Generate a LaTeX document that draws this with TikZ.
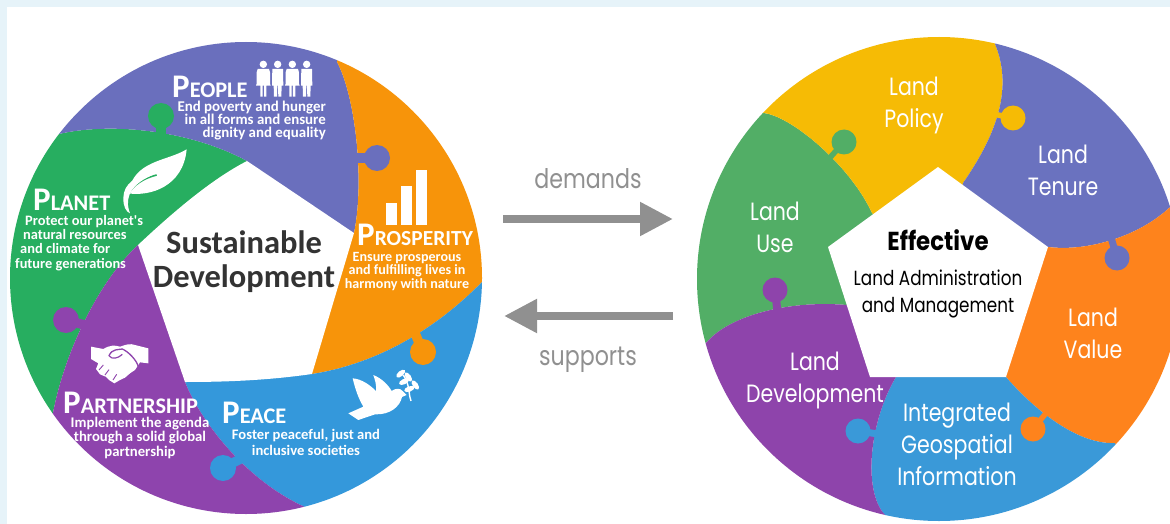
\documentclass[tikz,border=0pt]{standalone}
\usepackage{fontspec}
\usetikzlibrary{arrows.meta}
\newfontfamily\hum{Carlito}[BoldFont=Carlito Bold]
\newfontfamily\fut{Poppins}[BoldFont=* SemiBold,FakeStretch=0.82]
\newfontfamily\futb{Poppins Bold}[FakeStretch=0.88]
\definecolor{lviolet}{HTML}{6A6FBD}
\definecolor{lorange}{HTML}{F7940A}
\definecolor{lgreen}{HTML}{27AE60}
\definecolor{lpurple}{HTML}{8E44AD}
\definecolor{lblue}{HTML}{3498DB}
\definecolor{rgreen}{HTML}{52AE66}
\definecolor{ryellow}{HTML}{F6BB05}
\definecolor{rviolet}{HTML}{6A72BF}
\definecolor{rorange}{HTML}{FE831C}
\definecolor{rpurple}{HTML}{8E44AB}
\definecolor{rblue}{HTML}{3A99D8}
\definecolor{arrowgrey}{HTML}{909090}
\definecolor{bgtint}{HTML}{E6F3F9}
\newcommand{\heading}[2]{{\fontsize{33}{33}\selectfont #1}{\fontsize{22.3}{22}\selectfont #2}}
% colour, neck start inside own sector, circle centre, radius, neck width
\newcommand{\jigsawtab}[5]{%
  \draw[#1,line width=#5] (#2) -- (#3);
  \fill[#1] (#3) circle[radius=#4];}
\tikzset{
  headtext/.style={anchor=base west,inner sep=0pt,text=white,font=\hum\bfseries},
  bodytext/.style={anchor=base,inner sep=0pt,text=white,font=\hum\bfseries\fontsize{14.4}{14.3}\selectfont},
  landtext/.style={anchor=base,inner sep=0pt,align=center,text=white,font=\fut\fontsize{25}{32}\selectfont},
  flowlabel/.style={anchor=base,inner sep=0pt,text=arrowgrey,font=\fut\fontsize{27}{30}\selectfont},
  flowarrow/.style={draw=arrowgrey,line width=8pt,-{Triangle[length=33pt,width=32pt]}},
  icon/.style={fill=white,draw=none},
}
\begin{document}
\begin{tikzpicture}[x=1pt,y=-1pt]
\useasboundingbox (0,0) rectangle (1170,524);
\fill[white] (0,0) rectangle (1170,524);
\fill[bgtint] (0,0) rectangle (1170,7);
\fill[bgtint] (0,0) rectangle (7,524);

% ---------- left wheel
\begin{scope}
\clip (246,278) circle[radius=236pt];
\fill[lgreen] (246,278) -- (247,161) .. controls (190,130) and (110,122) .. (59,134) -- (0,100) -- (-20,450) -- (53,413) .. controls (65,350) and (100,280) .. (138,245) -- cycle;
\fill[lviolet] (246,278) -- (247,161) .. controls (190,130) and (110,122) .. (59,134) -- (30,100) -- (60,-10) -- (350,-10) -- (337,62) .. controls (355,95) and (365,180) .. (354,233) -- cycle;
\fill[lorange] (246,278) -- (354,233) .. controls (365,180) and (355,95) .. (337,62) -- (350,-10) -- (540,100) -- (520,260) -- (482,282) .. controls (430,335) and (370,365) .. (312,374) -- cycle;
\fill[lblue] (246,278) -- (312,374) .. controls (370,365) and (430,335) .. (482,282) -- (520,260) -- (520,540) -- (310,540) -- (305,507) .. controls (245,480) and (200,420) .. (185,382) -- cycle;
\fill[lpurple] (246,278) -- (185,382) .. controls (200,420) and (245,480) .. (305,507) -- (310,540) -- (-20,540) -- (-20,450) -- (53,413) .. controls (65,350) and (100,280) .. (138,245) -- cycle;
\end{scope}
% pentagon
\fill[white] (247,161) -- (354,233) -- (312,374) .. controls (270,380) and (230,382) .. (185,382) -- (138,245) .. controls (170,215) and (210,180) .. cycle;
% tabs
\coordinate (tvA) at (350,158); \coordinate (tvB) at (377,158);
\jigsawtab{lviolet}{tvA}{tvB}{13pt}{9.5pt}
\coordinate (tgA) at (161,140); \coordinate (tgB) at (161,116);
\jigsawtab{lgreen}{tgA}{tgB}{13pt}{9.5pt}
\coordinate (tpA) at (92,327); \coordinate (tpB) at (66,320);
\jigsawtab{lpurple}{tpA}{tpB}{13pt}{9.5pt}
\coordinate (tbA) at (250,454); \coordinate (tbB) at (223,468);
\jigsawtab{lblue}{tbA}{tbB}{13pt}{9.5pt}
\coordinate (toA) at (412,326); \coordinate (toB) at (423,352);
\jigsawtab{lorange}{toA}{toB}{13pt}{9.5pt}

% people icon
\begin{scope}[shift={(250,55)},x=0.3333pt,y=-0.3333pt]
\foreach \cx in {40,127}{
  \fill[icon] (\cx,28) circle[radius=3.7pt];
  \fill[icon] (\cx-17,42) -- (\cx+17,42) -- (\cx+20,52) -- (\cx+20,85) -- (\cx+14,85) -- (\cx+12,60) -- (\cx+22,92) -- (\cx+9,92) -- (\cx+9,125) -- (\cx+2,125) -- (\cx+2,92) -- (\cx-2,92) -- (\cx-2,125) -- (\cx-9,125) -- (\cx-9,92) -- (\cx-22,92) -- (\cx-12,60) -- (\cx-14,85) -- (\cx-20,85) -- (\cx-20,52) -- cycle;
}
\foreach \cx in {83,170}{
  \fill[icon] (\cx,28) circle[radius=3.7pt];
  \fill[icon] (\cx-16,42) -- (\cx+16,42) -- (\cx+17,92) -- (\cx+12,92) -- (\cx+11,125) -- (\cx+2,125) -- (\cx+1,92) -- (\cx-1,92) -- (\cx-2,125) -- (\cx-11,125) -- (\cx-12,92) -- (\cx-17,92) -- cycle;
}
\end{scope}
% leaf icon
\begin{scope}[shift={(0,30)},x=0.3333pt,y=-0.3333pt]
\fill[icon] (560,358) .. controls (500,395) and (400,390) .. (385,490) .. controls (450,500) and (550,470) .. cycle;
\draw[lgreen,line width=1.6pt] (385,492) .. controls (400,465) and (430,445) .. (470,435);
\fill[icon] (458,435) .. controls (410,435) and (370,460) .. (370,505) .. controls (370,530) and (378,545) .. (390,550) .. controls (378,520) and (375,470) .. cycle;
\end{scope}
% bars icon
\fill[icon] (386,203) rectangle (397,225);
\fill[icon] (401,186) rectangle (412,225);
\fill[icon] (416,170) rectangle (427,225);
% handshake icon
\begin{scope}[shift={(85,335)},x=0.3333pt,y=-0.3333pt]
\fill[icon] (18,35) -- (55,42) .. controls (75,30) and (90,30) .. (105,35) .. controls (125,28) and (135,25) .. (150,30) -- (190,40) -- (190,85) -- (165,82) -- (150,105) -- (135,115) -- (120,128) -- (105,135) -- (88,145) -- (72,135) -- (62,125) -- (45,118) -- (33,102) -- (40,85) -- (18,72) -- cycle;
\draw[lpurple,line width=1.3pt,line cap=round] (72,62) .. controls (82,40) and (100,45) .. (112,42) .. controls (130,50) and (155,75) .. (160,95);
\draw[lpurple,line width=1.2pt] (72,62) .. controls (80,75) and (100,70) .. (112,58);
\draw[lpurple,line width=0.9pt] (42,105) -- (55,90) (60,120) -- (72,104) (84,135) -- (95,118);
\end{scope}
% dove icon
\begin{scope}[shift={(340,365)},x=0.3333pt,y=-0.3333pt]
\fill[icon] (38,40) .. controls (65,42) and (90,60) .. (108,78) .. controls (110,60) and (105,45) .. (100,30) .. controls (125,40) and (145,60) .. (155,78) .. controls (165,70) and (180,68) .. (188,78) -- (200,90) -- (186,96) .. controls (180,125) and (150,150) .. (105,148) -- (55,165) -- (25,145) -- (70,125) .. controls (55,100) and (45,70) .. cycle;
\draw[white,line width=1.4pt] (213,108) .. controls (205,90) and (212,65) .. (190,30);
\foreach \lx/\ly/\la in {182/26/40,205/36/-55,192/50/25,226/60/-55,208/72/20}{
  \fill[icon] (\lx,\ly) ellipse[x radius=16,y radius=8,rotate=\la];
}
\end{scope}

% left labels
\node[headtext] (hPeople) at (172,98) {\heading{P}{EOPLE}};
\node[bodytext,align=right,anchor=base east,font=\hum\bfseries\fontsize{14.9}{13.2}\selectfont] (bPeople) at (326,138) {End poverty and hunger\\in all forms and ensure\\dignity and equality};
\node[headtext] (hPlanet) at (33,210) {\heading{P}{LANET}};
\node[bodytext,align=left,anchor=base west] (bPlanet) at (15,268) {\hspace*{10pt}Protect our planet's\\\hspace*{8pt}natural resources\\\hspace*{5pt}and climate for\\future generations};
\node[headtext,font=\hum\bfseries\fontsize{22}{22}\selectfont] (hProsperity) at (357,245) {{\fontsize{33}{33}\selectfont P}{\fontsize{21.5}{22}\selectfont ROSPERITY}};
\node[bodytext,align=center,font=\hum\bfseries\fontsize{14.1}{13.5}\selectfont] (bProsperity) at (407,288) {Ensure prosperous\\and fulfilling lives in\\harmony with nature};
\node[headtext] (hPartnership) at (63,413) {\heading{P}{ARTNERSHIP}};
\node[bodytext,align=center,font=\hum\bfseries\fontsize{14.7}{14.5}\selectfont] (bPartnership) at (140,456) {Implement the agenda\\through a solid global\\partnership};
\node[headtext] (hPeace) at (222,423) {\heading{P}{EACE}};
\node[bodytext,align=center,font=\hum\bfseries\fontsize{14.6}{16}\selectfont] (bPeace) at (306,455) {Foster peaceful, just and\\inclusive societies};
\node[anchor=base,inner sep=0pt,align=center,text=black!80,font=\hum\bfseries\fontsize{32.5}{34}\selectfont] (sd) at (244,287) {Sustainable\\Development};

% ---------- right wheel
\begin{scope}
\clip (0,0) rectangle (1170,524);
\clip (939,279) circle[radius=242pt];
\fill[rgreen] (939,279) -- (872,213) .. controls (850,165) and (790,115) .. (763,113) -- (740,90) -- (660,200) -- (680,360) -- (707,342) .. controls (730,315) and (790,300) .. (847,305) -- cycle;
\fill[ryellow] (939,279) -- (963,183) .. controls (1000,130) and (1012,85) .. (995,44) -- (990,20) -- (740,20) -- (740,90) -- (763,113) .. controls (790,115) and (850,165) .. (872,213) -- cycle;
\fill[rviolet] (939,279) -- (963,183) .. controls (1000,130) and (1012,85) .. (995,44) -- (990,20) -- (1200,20) -- (1200,190) -- (1169,208) .. controls (1140,235) and (1090,252) .. (1048,247) -- cycle;
\fill[rorange] (939,279) -- (1048,247) .. controls (1090,252) and (1140,235) .. (1169,208) -- (1200,190) -- (1200,450) -- (1125,470) -- (1115,443) .. controls (1075,445) and (1030,405) .. (1006,377) -- cycle;
\fill[rblue] (939,279) -- (1006,377) .. controls (1030,405) and (1075,445) .. (1115,443) -- (1125,470) -- (1125,540) -- (890,540) -- (885,515) .. controls (862,490) and (870,420) .. (896,377) -- cycle;
\fill[rpurple] (939,279) -- (896,377) .. controls (870,420) and (862,490) .. (885,515) -- (890,540) -- (660,540) -- (680,360) -- (707,342) .. controls (730,315) and (790,300) .. (847,305) -- cycle;
\end{scope}
\fill[white] (938,167) -- (1048,247) -- (1006,377) -- (870,377) -- (828,247) -- cycle;
% right tabs
\coordinate (ryA) at (988,113); \coordinate (ryB) at (1013,118);
\jigsawtab{ryellow}{ryA}{ryB}{12.5pt}{5.5pt}
\coordinate (rgA) at (826,162); \coordinate (rgB) at (844,142);
\jigsawtab{rgreen}{rgA}{rgB}{12.5pt}{5.5pt}
\coordinate (rvA) at (1110,234); \coordinate (rvB) at (1117,258);
\jigsawtab{rviolet}{rvA}{rvB}{12.5pt}{7pt}
\coordinate (roA) at (1051,407); \coordinate (roB) at (1033,429);
\jigsawtab{rorange}{roA}{roB}{12.5pt}{5.5pt}
\coordinate (rbA) at (885,435); \coordinate (rbB) at (858,431);
\jigsawtab{rblue}{rbA}{rbB}{12.5pt}{7pt}
\coordinate (rpA) at (778,316); \coordinate (rpB) at (775,290);
\jigsawtab{rpurple}{rpA}{rpB}{12.5pt}{8pt}

% right labels
\node[landtext] (lPolicy) at (914,128) {Land\\Policy};
\node[landtext] (lTenure) at (1063,195) {Land\\Tenure};
\node[landtext] (lUse) at (775,252) {Land\\Use};
\node[landtext] (lValue) at (1093,358) {Land\\Value};
\node[landtext] (lDev) at (815,402) {Land\\Development};
\node[landtext] (lGeo) at (957,485) {Integrated\\Geospatial\\Information};
\node[anchor=base,inner sep=0pt,text=black,font=\futb\fontsize{26}{30}\selectfont] (eff) at (938,250) {Effective};
\node[anchor=base,inner sep=0pt,align=center,text=black,font=\fut\fontsize{20.5}{27}\selectfont] (lam) at (938,312) {Land Administration\\and Management};

% arrows
\coordinate (dS) at (503,219); \coordinate (dE) at (673,219);
\coordinate (sS) at (673,316); \coordinate (sE) at (504,316);
\draw[flowarrow] (dS) -- (dE);
\draw[flowarrow] (sS) -- (sE);
\node[flowlabel] (demands) at (588,188) {demands};
\node[flowlabel] (supports) at (588,365) {supports};
\end{tikzpicture}
\end{document}
